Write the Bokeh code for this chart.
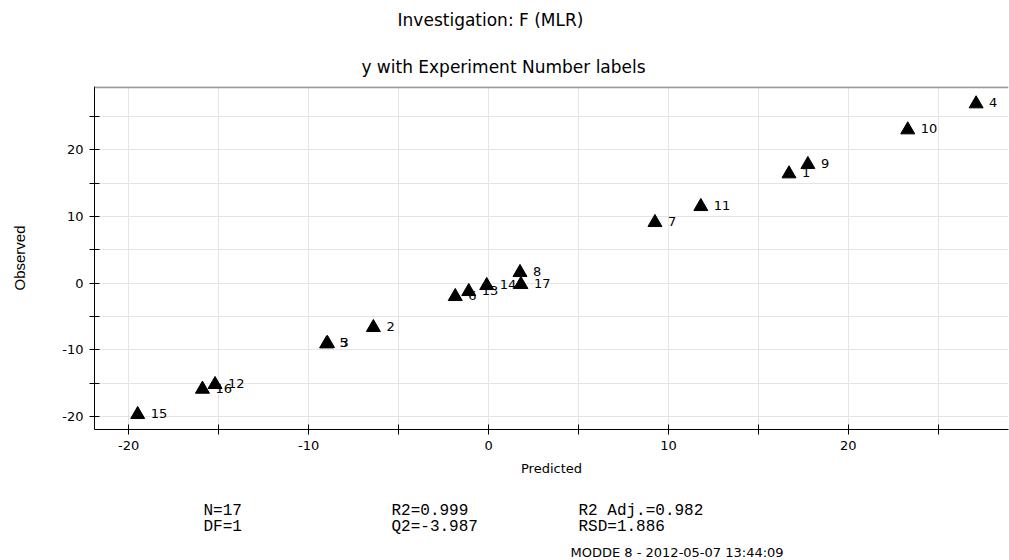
from bokeh.plotting import figure
from bokeh.layouts import column
from bokeh.models import FixedTicker, ColumnDataSource, Range1d, Span
from bokeh.core.properties import value
from bokeh.embed import file_html
from bokeh.resources import INLINE

# ---- data ----
exp_labels = ["1", "2", "3", "4", "5", "6", "7", "8", "9", "10",
              "11", "12", "13", "14", "15", "16", "17"]
predicted = [16.7, -6.4, -8.95, 27.1, -9.0, -1.85, 9.25, 1.75, 17.75, 23.3,
             11.8, -15.2, -1.1, -0.1, -19.5, -15.9, 1.8]
observed = [16.4, -6.65, -9.05, 26.9, -9.1, -2.0, 9.1, 1.6, 17.8, 23.0,
            11.5, -15.2, -1.25, -0.35, -19.7, -15.9, -0.2]

tick_values = [-20, -15, -10, -5, 0, 5, 10, 15, 20, 25]
tick_labels = ["-20", "", "-10", "", "0", "", "10", "", "20", ""]

title_text = "Investigation: F (MLR)"
subtitle_text = "y with Experiment Number labels"
x_title = "Predicted"
y_title = "Observed"
stats_texts = ["N=17", "DF=1", "R2=0.999", "Q2=-3.987", "R2 Adj.=0.982", "RSD=1.886"]
footer_text = "MODDE 8 - 2012-05-07 13:44:09"

W = 1009
LEFT, RIGHT = 94, 1
HEAD_H, MAIN_H, FOOT_H = 80, 410, 70
Y_TOP = 29.5


def text_panel(h):
    f = figure(width=W, height=h, output_backend="svg", toolbar_location=None,
               x_range=Range1d(LEFT, W - RIGHT), y_range=Range1d(h, 0),
               x_axis_location=None, y_axis_location=None,
               min_border_left=LEFT, min_border_right=RIGHT,
               min_border_top=0, min_border_bottom=0)
    f.grid.visible = False
    f.outline_line_color = None
    f.background_fill_color = "white"
    f.border_fill_color = "white"
    return f


# ---- header (titles), x in page pixels, y = text centre ----
head = text_panel(HEAD_H)
hsrc = ColumnDataSource(dict(x=[490, 503], y=[19, 66], t=[title_text, subtitle_text]))
head.text(x="x", y="y", text="t", source=hsrc, text_align="center",
          text_baseline="middle", text_font=value("DejaVu Sans"),
          text_font_size="17px", text_color="black")

# ---- main scatter plot ----
src = ColumnDataSource(dict(x=predicted, y=observed, label=exp_labels))

p = figure(width=W, height=MAIN_H, output_backend="svg", toolbar_location=None,
           x_range=Range1d(-21.9, 28.9), y_range=Range1d(-21.95, Y_TOP),
           min_border_left=LEFT, min_border_right=RIGHT, min_border_top=6,
           min_border_bottom=61)
p.background_fill_color = "white"
p.border_fill_color = "white"
p.outline_line_color = None
# grey top border only (the reference has no right-hand border)
p.add_layout(Span(location=Y_TOP - 0.1, dimension="width",
                  line_color="#9a9a9a", line_width=2))

ticker = FixedTicker(ticks=tick_values)
overrides = {t: l for t, l in zip(tick_values, tick_labels)}
for ax in (p.xaxis[0], p.yaxis[0]):
    ax.ticker = ticker
    ax.major_label_overrides = overrides
    ax.axis_line_color = "black"
    ax.axis_line_width = 1
    ax.major_tick_line_color = "black"
    ax.major_tick_in = 5
    ax.major_tick_out = 5
    ax.minor_tick_line_color = None
    ax.major_label_text_font = "DejaVu Sans"
    ax.major_label_text_font_size = "13px"
    ax.major_label_text_color = "black"
    ax.axis_label_text_font_style = "normal"
    ax.axis_label_text_color = "black"

p.xaxis.major_label_standoff = 6
p.yaxis.major_label_standoff = 6
p.xaxis.axis_label = x_title
p.xaxis.axis_label_text_font = "DejaVu Sans"
p.xaxis.axis_label_text_font_size = "13px"
p.xaxis.axis_label_standoff = 8
p.yaxis.axis_label = y_title
p.yaxis.axis_label_text_font = "Liberation Sans"
p.yaxis.axis_label_text_font_size = "15px"
p.yaxis.axis_label_standoff = 31

for g in (p.xgrid[0], p.ygrid[0]):
    g.ticker = ticker
    g.grid_line_color = "#e4e4e4"
    g.grid_line_width = 1

# labels first, then triangles on top
p.text(x="x", y="y", text="label", source=src, x_offset=13, y_offset=-1,
       text_align="left", text_baseline="middle",
       text_font=value("DejaVu Sans"), text_font_size="13px", text_color="black")
p.scatter(x="x", y="y", source=src, marker="triangle", size=14,
          fill_color="black", line_color="black")

# ---- footer (statistics), x in page pixels, y = text centre ----
foot = text_panel(FOOT_H)
fsrc = ColumnDataSource(dict(x=[203, 203, 391, 391, 578, 578],
                             y=[20, 36, 20, 36, 20, 36], t=stats_texts))
foot.text(x="x", y="y", text="t", source=fsrc, text_align="left",
          text_baseline="middle", text_font=value("Liberation Mono"),
          text_font_size="16px", text_color="black")
msrc = ColumnDataSource(dict(x=[570], y=[62], t=[footer_text]))
foot.text(x="x", y="y", text="t", source=msrc, text_align="left",
          text_baseline="middle", text_font=value("DejaVu Sans"),
          text_font_size="13px", text_color="black")

layout = column(head, p, foot, spacing=0)
open("out.html", "w").write(file_html(layout, INLINE))
